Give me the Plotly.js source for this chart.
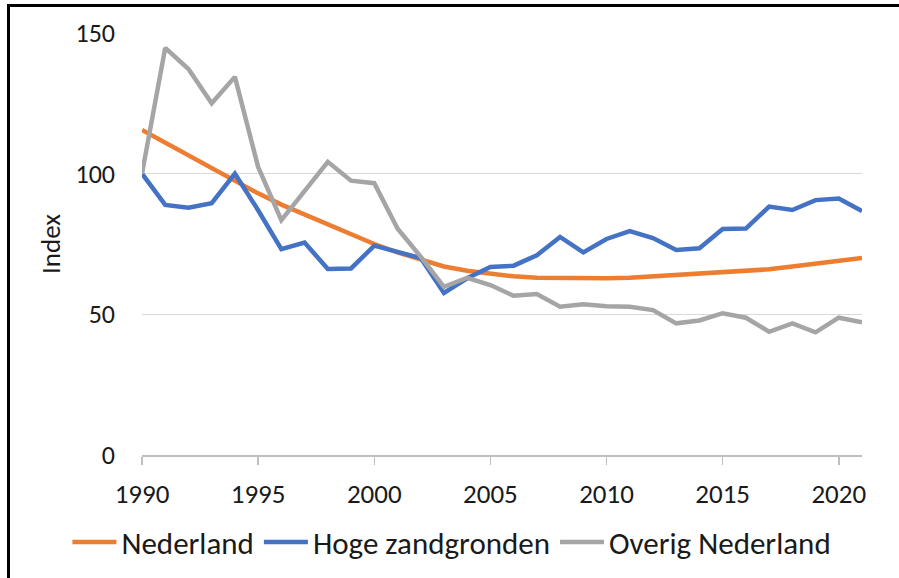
<!DOCTYPE html>
<html>
<head>
<meta charset="utf-8">
<script src="https://cdn.plot.ly/plotly-3.0.1.min.js"></script>
<style>
  html, body { margin: 0; padding: 0; background: #fff; }
  #wrap { position: relative; width: 899px; height: 578px; overflow: hidden; }
  #chart { position: absolute; left: 0; top: 0; width: 899px; height: 578px; }
  #frame { position: absolute; left: 7px; top: 4px; width: 900px; height: 600px;
           border-left: 3px solid #000; border-top: 3px solid #000; pointer-events: none; }
</style>
</head>
<body>
<div id="wrap">
  <div id="chart"></div>
  <div id="frame"></div>
</div>
<script>
const years = [1990,1991,1992,1993,1994,1995,1996,1997,1998,1999,2000,2001,2002,2003,2004,2005,2006,2007,2008,2009,2010,2011,2012,2013,2014,2015,2016,2017,2018,2019,2020,2021];
const nederland = [115.5,111,106.5,102,97.5,93,89,85.5,82,78.5,75,72,69.5,67,65.5,64.5,63.5,63,62.8,62.8,62.8,63,63.5,64,64.5,65,65.5,66,67,68,69,70];
const hogeZandgronden = [100,88.9,87.9,89.5,100,87,73.2,75.5,66.1,66.3,74.4,72,70,57.6,62.8,66.8,67.3,71,77.5,72,76.8,79.6,77.1,72.9,73.5,80.3,80.5,88.3,87.1,90.6,91.2,86.7];
const overigNederland = [100,144.7,137.2,125,134.4,102.4,83.5,93.6,104.2,97.5,96.6,80.5,70.5,59.8,63,60.4,56.6,57.2,52.7,53.6,52.9,52.7,51.5,46.8,47.8,50.4,48.8,43.8,46.8,43.6,48.8,47.2];
const seriesNames = ["Nederland", "Hoge zandgronden", "Overig Nederland"];
const xTicks = [1990,1995,2000,2005,2010,2015,2020];
const yTicks = [0,50,100,150];

const FONT = "Carlito, Lato, 'Liberation Sans', sans-serif";
const colors = ["#ED7D31", "#4472C4", "#A5A5A5"];
const values = [nederland, hogeZandgronden, overigNederland];

const traces = values.map((v, i) => ({
  x: years, y: v, name: seriesNames[i], type: "scatter", mode: "lines",
  legendgroup: "g" + i,
  line: { color: colors[i], width: 4.5 }
}));

const layout = {
  width: 899, height: 578,
  margin: { l: 142, r: 37, t: 33, b: 123, autoexpand: false },
  paper_bgcolor: "#fff", plot_bgcolor: "#fff",
  font: { family: FONT, color: "#1a1a1a", size: 26 },
  showlegend: true,
  legend: {
    orientation: "h", x: -0.1036, xanchor: "left", y: -0.207, yanchor: "middle",
    font: { family: FONT, size: 31, color: "#1a1a1a" }, bgcolor: "rgba(0,0,0,0)",
    itemwidth: 44, tracegroupgap: 18
  },
  xaxis: {
    range: [1990, 2021], tickvals: xTicks, ticktext: xTicks.map(String),
    showgrid: false, zeroline: false, showline: true, linecolor: "#bfbfbf", linewidth: 1.5,
    ticks: "outside", ticklen: 8, tickcolor: "#bfbfbf", tickwidth: 1.5,
    tickfont: { family: FONT, size: 27, color: "#1a1a1a" }, ticklabelstandoff: 6
  },
  yaxis: {
    range: [0, 150], tickvals: yTicks, ticktext: yTicks.map(String),
    showgrid: true, gridcolor: "#d9d9d9", gridwidth: 1.5, zeroline: false, showline: false,
    ticks: "", tickfont: { family: FONT, size: 26, color: "#1a1a1a" }, ticklabelstandoff: 26,
    title: { text: "Index", font: { family: FONT, size: 27, color: "#1a1a1a" }, standoff: 7 }
  }
};

Plotly.newPlot("chart", traces, layout, { staticPlot: true, displayModeBar: false });
</script>
</body>
</html>
